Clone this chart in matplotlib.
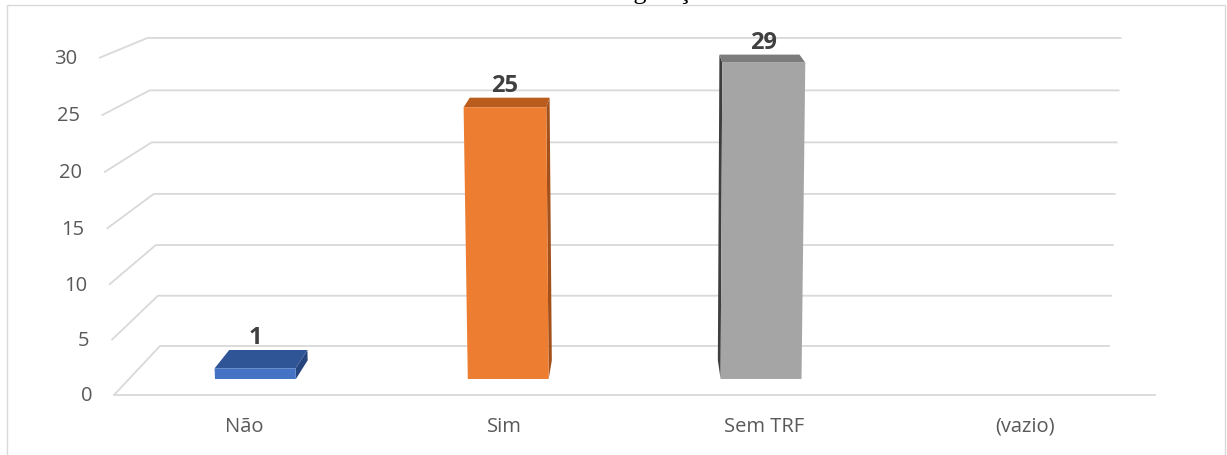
import matplotlib
matplotlib.use("Agg")
import matplotlib.pyplot as plt
from matplotlib.patches import Polygon, Rectangle

# ---- data ----
categories = ["Não", "Sim", "Sem TRF", "(vazio)"]
values = [1, 25, 29, None]
y_ticks = [0, 5, 10, 15, 20, 25, 30]
title_text = "Regulação"

front_colors = ["#4472C4", "#ED7D31", "#A5A5A5"]
top_colors = ["#2F5597", "#B95C1E", "#7C7C7C"]
side_colors = ["#26457E", "#A4501A", "#3E3E3E"]

# ---- figure / scene ----
W, H = 1227, 456
fig = plt.figure(figsize=(W / 100, H / 100), dpi=100)
ax = fig.add_axes([0, 0, 1, 1])
ax.set_xlim(0, W)
ax.set_ylim(H, 0)
ax.axis("off")

# perspective camera (layout): world X in [0,1] left->right, Y in value units, Z in [0,1] front->back
A, B, C, D = 1041.0, -0.59, 61.3, 114.0
F, G, K = -11.287, -15.76, 396.0
P_Z, Q_Y = 0.0958, -0.0009


def proj(X, Y, Z):
    w = 1.0 + P_Z * Z + Q_Y * Y
    return ((A * X + B * Y + C * Z + D) / w, (F * Y + G * Z + K) / w)


grid_color = "#D9D9D9"
text_color = "#595959"

# figure border
ax.add_patch(Rectangle((7, 6), 1218, 480, fill=False, ec="#D9D9D9", lw=1.0))

# walls gridlines
for t in y_ticks:
    p0 = proj(0, t, 0)
    p1 = proj(0, t, 1)
    p2 = proj(1, t, 1)
    ax.plot([p0[0], p1[0], p2[0]], [p0[1], p1[1], p2[1]], color=grid_color, lw=1.3,
            solid_capstyle="butt", zorder=1)
    ax.text(p0[0] - 22, p0[1], str(t), ha="right", va="center", fontsize=14.5,
            color=text_color, family="Open Sans")

# floor front edge
f0 = proj(0, 0, 0)
f1 = proj(1, 0, 0)
ax.plot([f0[0], f1[0]], [f0[1], f1[1]], color=grid_color, lw=1.3, zorder=1)

# bars
N = len(categories)
bar_frac = 0.32
z_front, z_back = 0.307, 0.689
for i, (cat, v) in enumerate(zip(categories, values)):
    xc = (i + 0.5) / N
    lx, ly = proj(xc, 0, 0)
    ax.text(lx, ly + 31, cat, ha="center", va="center", fontsize=14.5,
            color=text_color, family="Open Sans")
    if v is None:
        continue
    x0 = xc - bar_frac / N / 2
    x1 = xc + bar_frac / N / 2
    # side face
    sx = x1 if xc < 0.5 else x0
    side = [proj(sx, 0, z_front), proj(sx, v, z_front), proj(sx, v, z_back), proj(sx, 0, z_back)]
    ax.add_patch(Polygon(side, closed=True, fc=side_colors[i], ec="none", zorder=3))
    # top face
    top = [proj(x0, v, z_front), proj(x1, v, z_front), proj(x1, v, z_back), proj(x0, v, z_back)]
    ax.add_patch(Polygon(top, closed=True, fc=top_colors[i], ec="none", zorder=3))
    # front face
    front = [proj(x0, 0, z_front), proj(x1, 0, z_front), proj(x1, v, z_front), proj(x0, v, z_front)]
    ax.add_patch(Polygon(front, closed=True, fc=front_colors[i], ec="none", zorder=4))
    # data label
    tx = proj(xc, v, z_front)[0]
    ty = proj(xc, v, z_back)[1]
    ax.text(tx, ty - 7, str(v), ha="center", va="baseline", fontsize=17, fontweight="bold",
            color="#404040", family="Open Sans", zorder=5)

# clipped title (only its descenders are visible in the reference)
ax.text(660, -1.5, title_text, ha="center", va="baseline", fontsize=19,
        family="Liberation Serif", color="black")

fig.savefig("out.png", dpi=100)
